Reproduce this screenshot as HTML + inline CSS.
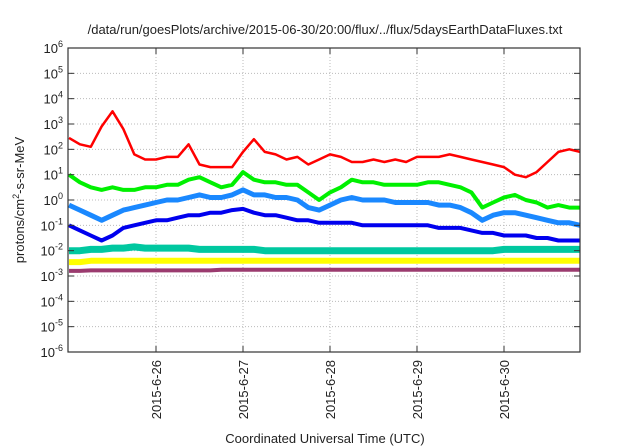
<!DOCTYPE html>
<html><head><meta charset="utf-8"><style>
body{margin:0;background:#fff;}
svg{display:block;font-family:"Liberation Sans",sans-serif;}
</style></head><body>
<svg id="c" width="640" height="448">
<text x="325" y="34" text-anchor="middle" font-size="13" fill="#222">/data/run/goesPlots/archive/2015-06-30/20:00/flux/../flux/5daysEarthDataFluxes.txt</text>
<text x="325" y="443" text-anchor="middle" font-size="13" fill="#222">Coordinated Universal Time (UTC)</text>
<text transform="translate(24,200) rotate(-90)" text-anchor="middle" font-size="13" fill="#222">protons/cm<tspan dy="-5" font-size="9">2</tspan><tspan dy="5">-s-sr-MeV</tspan></text>
<g id="grid"></g><g id="series"></g><g id="axes"></g>
</svg>
<script>
const dayLabels=["2015-6-26","2015-6-27","2015-6-28","2015-6-29","2015-6-30"];
const dayPos=[1,2,3,4,5];
const decades=[-6,-5,-4,-3,-2,-1,0,1,2,3,4,5,6];
const stepHours=3;
const red=[2.45,2.2,2.1,2.9,3.5,2.8,1.8,1.6,1.6,1.7,1.7,2.2,1.4,1.3,1.3,1.3,1.9,2.4,1.9,1.8,1.6,1.7,1.4,1.6,1.8,1.7,1.5,1.5,1.6,1.5,1.6,1.5,1.7,1.7,1.7,1.8,1.7,1.6,1.5,1.4,1.3,1.0,0.9,1.1,1.5,1.9,2.0,1.9];
const green=[1.0,0.7,0.5,0.4,0.5,0.4,0.4,0.5,0.5,0.6,0.6,0.8,0.9,0.7,0.5,0.6,1.1,0.8,0.7,0.7,0.6,0.6,0.3,0.0,0.3,0.5,0.8,0.7,0.7,0.6,0.6,0.6,0.6,0.7,0.7,0.6,0.5,0.3,-0.3,-0.1,0.1,0.2,0.0,-0.1,-0.3,-0.2,-0.3,-0.3];
const lightBlue=[-0.2,-0.4,-0.6,-0.8,-0.6,-0.4,-0.3,-0.2,-0.1,0.0,0.0,0.1,0.2,0.1,0.1,0.2,0.4,0.2,0.2,0.1,0.1,0.0,-0.3,-0.4,-0.2,0.0,0.1,0.0,0.0,0.0,-0.1,-0.1,-0.1,-0.1,-0.2,-0.2,-0.3,-0.5,-0.8,-0.6,-0.5,-0.5,-0.6,-0.7,-0.8,-0.9,-0.9,-1.0];
const darkBlue=[-1.0,-1.2,-1.4,-1.6,-1.4,-1.1,-1.0,-0.9,-0.8,-0.8,-0.7,-0.6,-0.6,-0.5,-0.5,-0.4,-0.35,-0.5,-0.6,-0.6,-0.7,-0.8,-0.8,-0.9,-0.9,-0.9,-0.9,-1.0,-1.0,-1.0,-1.0,-1.0,-1.0,-1.0,-1.1,-1.1,-1.1,-1.2,-1.3,-1.3,-1.4,-1.4,-1.4,-1.5,-1.5,-1.6,-1.6,-1.6];
const teal=[-2.0,-2.0,-1.95,-1.95,-1.9,-1.9,-1.85,-1.9,-1.9,-1.9,-1.9,-1.9,-1.95,-1.95,-1.95,-1.95,-1.95,-1.95,-2.0,-2.0,-2.0,-2.0,-2.0,-2.0,-2.0,-2.0,-2.0,-2.0,-2.0,-2.0,-2.0,-2.0,-2.0,-2.0,-2.0,-2.0,-2.0,-2.0,-2.0,-2.0,-1.95,-1.95,-1.95,-1.95,-1.95,-1.95,-1.95,-1.95];
const yellow=[-2.45,-2.45,-2.4,-2.4,-2.4,-2.4,-2.4,-2.4,-2.4,-2.4,-2.4,-2.4,-2.4,-2.4,-2.4,-2.4,-2.4,-2.4,-2.4,-2.4,-2.4,-2.4,-2.4,-2.4,-2.4,-2.4,-2.4,-2.4,-2.4,-2.4,-2.4,-2.4,-2.4,-2.4,-2.4,-2.4,-2.4,-2.4,-2.4,-2.4,-2.4,-2.4,-2.4,-2.4,-2.4,-2.4,-2.4,-2.4];
const purple=[-2.8,-2.8,-2.78,-2.78,-2.78,-2.78,-2.78,-2.78,-2.78,-2.78,-2.78,-2.78,-2.78,-2.78,-2.75,-2.75,-2.75,-2.75,-2.75,-2.75,-2.75,-2.75,-2.75,-2.75,-2.75,-2.75,-2.75,-2.75,-2.75,-2.75,-2.75,-2.75,-2.75,-2.75,-2.75,-2.75,-2.75,-2.75,-2.75,-2.75,-2.75,-2.75,-2.75,-2.75,-2.75,-2.75,-2.75,-2.75];

const L=68,R=580,T=48,B=352,X0=69,DAY=87;
const xs=d=>X0+d*DAY;
const ys=v=>T+(6-v)*(B-T)/12;
const NS="http://www.w3.org/2000/svg";
function mk(tag,attrs,parent){const e=document.createElementNS(NS,tag);for(const k in attrs)e.setAttribute(k,attrs[k]);parent.appendChild(e);return e;}
const grid=document.getElementById('grid'),ser=document.getElementById('series'),ax=document.getElementById('axes');
decades.forEach(d=>{
 const y=ys(d);
 if(d>-6&&d<6){const g=mk('line',{x1:L,x2:R,y1:y,y2:y,stroke:'#bbb','stroke-dasharray':'1,2'},grid);
 
 }
 const t1=mk('line',{x1:L,x2:L+6,y1:y,y2:y,stroke:'#333'},ax);
 
 
 const t2=mk('line',{x1:R-6,x2:R,y1:y,y2:y,stroke:'#333'},ax);
 
 
 const tx=mk('text',{x:L-5,y:y+5,'font-size':13,fill:'#222','text-anchor':'end'},ax);
 
 
 tx.innerHTML='10<tspan dy="-6" font-size="9">'+d+'</tspan>';
});
dayPos.forEach((d,i)=>{
 const x=xs(d);
 const g=mk('line',{x1:x,x2:x,y1:T,y2:B,stroke:'#bbb','stroke-dasharray':'1,2'},grid);
 
 
 const t1=mk('line',{x1:x,x2:x,y1:B-6,y2:B,stroke:'#333'},ax);
 
 
 const t2=mk('line',{x1:x,x2:x,y1:T,y2:T+6,stroke:'#333'},ax);
 
 
 const tx=mk('text',{transform:`translate(${x+5},${B+8}) rotate(-90)`,'font-size':13,fill:'#222','text-anchor':'end'},ax);
 
 
 tx.textContent=dayLabels[i];
});
const frame=mk('rect',{x:L,y:T,width:R-L,height:B-T,fill:'none',stroke:'#333','stroke-width':1.2},ax);


const seriesList=[[purple,'#9b3b6f',4,'series-purple'],[yellow,'#ffff00',6,'series-yellow'],[teal,'#00c8a0',7,'series-teal'],[darkBlue,'#0000ee',4,'series-dark-blue'],[lightBlue,'#1a88ff',5,'series-light-blue'],[green,'#00f000',4,'series-green'],[red,'#ff0000',2.5,'series-red']];
seriesList.forEach(([arr,col,w,name])=>{
 const pts=arr.map((v,i)=>xs(i*stepHours/24).toFixed(1)+','+ys(v).toFixed(1)).join(' ');
 const p=mk('polyline',{points:pts,fill:'none',stroke:col,'stroke-width':w,'stroke-linejoin':'round'},ser);
 
 
});
</script>
</body></html>
